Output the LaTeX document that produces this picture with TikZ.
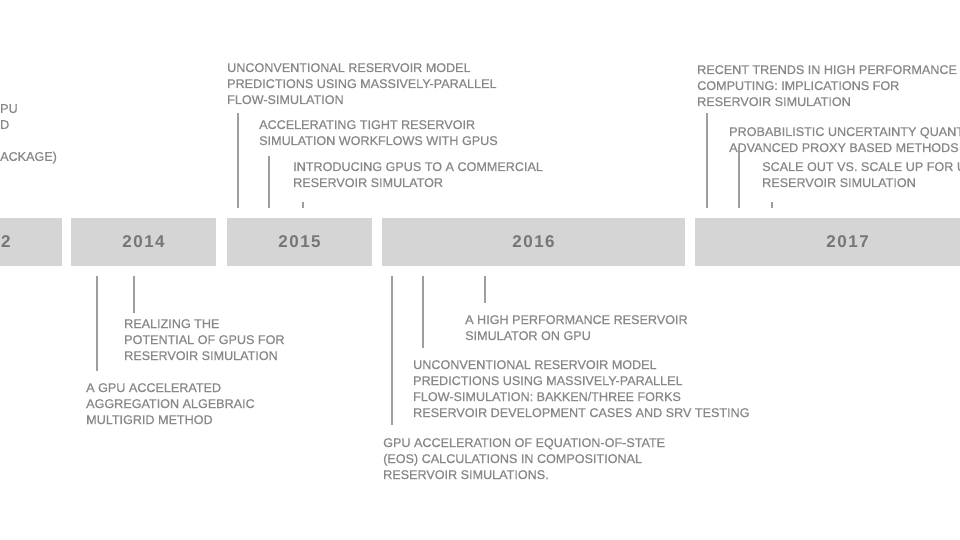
\documentclass[tikz,border=0pt]{standalone}
\usepackage{fontspec}
\setmainfont{Liberation Sans}
\newfontfamily\titleface[FakeBold=0.6]{Liberation Sans}
\newfontfamily\yearface[LetterSpace=9]{Liberation Sans}
\definecolor{boxgray}{RGB}{213,213,213}
\definecolor{yeargray}{RGB}{118,118,118}
\definecolor{textgray}{RGB}{136,136,136}
\definecolor{linegray}{RGB}{158,158,158}
\newcommand\titlefont{\titleface\fontsize{12.6}{16}\selectfont}
\newcommand\yearfont{\yearface\bfseries\fontsize{17}{17}\selectfont}
\tikzset{
  yearbox/.style = {fill=boxgray, minimum height=48pt, inner sep=0pt, text=yeargray, font=\yearfont},
  title/.style = {anchor=north west, align=left, inner sep=0pt, text=textgray, font=\titlefont},
  tick/.style = {draw=linegray, line width=2pt}
}

\begin{document}
\begin{tikzpicture}[x=1pt, y=-1pt]
\useasboundingbox (0,0) rectangle (960,540);
\clip (0,0) rectangle (960,540);
\fill[white] (0,0) rectangle (960,540);

\node[yearbox, minimum width=145pt] (y2012) at (-10.5,242) {2012};
\node[yearbox, minimum width=145pt] (y2014) at (143.5,242) {2014};
\node[yearbox, minimum width=145pt] (y2015) at (299.5,242) {2015};
\node[yearbox, minimum width=303pt] (y2016) at (533.5,242) {2016};
\node[yearbox, minimum width=305pt] (y2017) at (847.5,242) {2017};

\node[title] (t12)  at (0,104)   {PU\\D\\ \\ACKAGE)};
\node[title] (t15a) at (227,63)  {UNCONVENTIONAL RESERVOIR MODEL\\PREDICTIONS USING MASSIVELY-PARALLEL\\FLOW-SIMULATION};
\node[title] (t15b) at (259,120) {ACCELERATING TIGHT RESERVOIR\\SIMULATION WORKFLOWS WITH GPUS};
\node[title] (t15c) at (293,162) {INTRODUCING GPUS TO A COMMERCIAL\\RESERVOIR SIMULATOR};
\node[title] (t17a) at (697,65)  {RECENT TRENDS IN HIGH PERFORMANCE\\COMPUTING: IMPLICATIONS FOR\\RESERVOIR SIMULATION};
\node[title] (t17b) at (729,127) {PROBABILISTIC UNCERTAINTY QUANTIFICATION\\ADVANCED PROXY BASED METHODS};
\node[title] (t17c) at (762,162) {SCALE OUT VS. SCALE UP FOR UNCONVENTIONAL\\RESERVOIR SIMULATION};

\node[title] (t14b) at (124,319) {REALIZING THE\\POTENTIAL OF GPUS FOR\\RESERVOIR SIMULATION};
\node[title] (t14a) at (86,383)  {A GPU ACCELERATED\\AGGREGATION ALGEBRAIC\\MULTIGRID METHOD};
\node[title] (t16c) at (465,315) {A HIGH PERFORMANCE RESERVOIR\\SIMULATOR ON GPU};
\node[title] (t16b) at (413,360) {UNCONVENTIONAL RESERVOIR MODEL\\PREDICTIONS USING MASSIVELY-PARALLEL\\FLOW-SIMULATION: BAKKEN/THREE FORKS\\RESERVOIR DEVELOPMENT CASES AND SRV TESTING};
\node[title] (t16a) at (383,438) {GPU ACCELERATION OF EQUATION-OF-STATE\\(EOS) CALCULATIONS IN COMPOSITIONAL\\RESERVOIR SIMULATIONS.};

\coordinate (c15a) at (238,113);
\coordinate (c15b) at (269,156);
\coordinate (c15c) at (303,202);
\coordinate (c17a) at (707,113);
\coordinate (c17b) at (739,147);
\coordinate (c17c) at (772,202);
\coordinate (c14a) at (97,371);
\coordinate (c14b) at (134,313);
\coordinate (c16a) at (392,425);
\coordinate (c16b) at (423,348);
\coordinate (c16c) at (485,303);

\draw[tick, shorten >=10pt] (c15a) -- (c15a |- y2015.north);
\draw[tick, shorten >=10pt] (c15b) -- (c15b |- y2015.north);
\draw[tick, shorten >=10pt] (c15c) -- (c15c |- y2015.north);
\draw[tick, shorten >=10pt] (c17a) -- (c17a |- y2017.north);
\draw[tick, shorten >=10pt] (c17b) -- (c17b |- y2017.north);
\draw[tick, shorten >=10pt] (c17c) -- (c17c |- y2017.north);
\draw[tick, shorten <=10pt] (c14a |- y2014.south) -- (c14a);
\draw[tick, shorten <=10pt] (c14b |- y2014.south) -- (c14b);
\draw[tick, shorten <=10pt] (c16a |- y2016.south) -- (c16a);
\draw[tick, shorten <=10pt] (c16b |- y2016.south) -- (c16b);
\draw[tick, shorten <=10pt] (c16c |- y2016.south) -- (c16c);
\end{tikzpicture}
\end{document}
